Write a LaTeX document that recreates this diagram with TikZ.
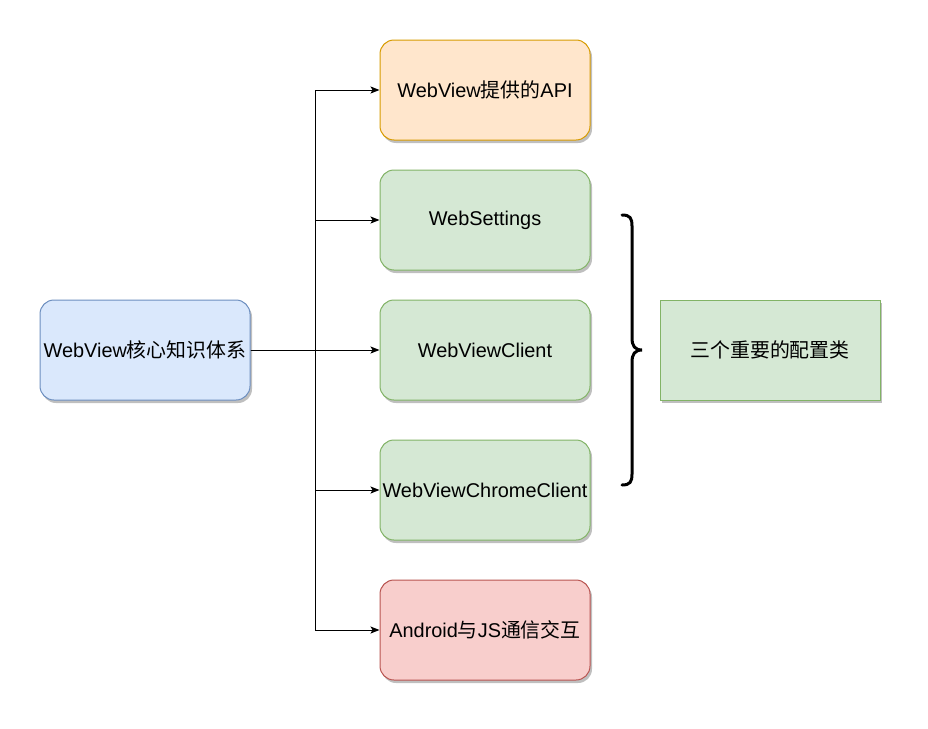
\documentclass[tikz,border=0pt]{standalone}
\usepackage{fontspec}
\setmainfont{Liberation Sans}
\newfontfamily\cjk{Noto Sans CJK SC}
\usetikzlibrary{arrows.meta,shadows}
\definecolor{bluefill}{HTML}{DAE8FC}
\definecolor{bluedraw}{HTML}{6C8EBF}
\definecolor{orangefill}{HTML}{FFE6CC}
\definecolor{orangedraw}{HTML}{D79B00}
\definecolor{greenfill}{HTML}{D5E8D4}
\definecolor{greendraw}{HTML}{82B366}
\definecolor{redfill}{HTML}{F8CECC}
\definecolor{reddraw}{HTML}{B85450}
\begin{document}
\begin{tikzpicture}[x=1pt,y=-1pt,
  font=\fontsize{19.9}{23}\selectfont,
  box/.style={minimum width=210pt,minimum height=100pt,inner sep=0pt,rounded corners=14pt,line width=1pt,
    drop shadow={shadow xshift=2pt,shadow yshift=-3pt,opacity=0.25,fill=black}},
  bluebox/.style={box,fill=bluefill,draw=bluedraw},
  orangebox/.style={box,fill=orangefill,draw=orangedraw},
  greenbox/.style={box,fill=greenfill,draw=greendraw},
  redbox/.style={box,fill=redfill,draw=reddraw},
  notebox/.style={box,rounded corners=0pt,minimum width=220pt,fill=greenfill,draw=greendraw},
  conn/.style={line width=1pt,-{Stealth[length=9pt,width=7pt,inset=2pt]}},
  bracestyle/.style={line width=3pt,line cap=round}
]
\useasboundingbox (0,0) rectangle (928,728);
\node[bluebox] (root) at (145,350) {WebView{\cjk 核心知识体系}};
\node[orangebox] (api) at (485,90) {WebView{\cjk 提供的}API};
\node[greenbox] (ws) at (485,220) {WebSettings};
\node[greenbox] (wvc) at (485,350) {WebViewClient};
\node[greenbox] (wcc) at (485,490) {WebViewChromeClient};
\node[redbox] (js) at (485,630) {Android{\cjk 与}JS{\cjk 通信交互}};
\node[notebox] (cfg) at (770,350) {\cjk 三个重要的配置类};

\draw[conn] (root.east) -- (wvc.west);
\draw[conn] (root.east) -- ++(65,0) |- (api.west);
\draw[conn] (root.east) -- ++(65,0) |- (ws.west);
\draw[conn] (root.east) -- ++(65,0) |- (wcc.west);
\draw[conn] (root.east) -- ++(65,0) |- (js.west);

\draw[bracestyle] (622,215) .. controls (630,215) and (632,218) .. (632,226)
  -- (632,338) .. controls (632,346) and (635,350) .. (642,350)
  .. controls (635,350) and (632,354) .. (632,362)
  -- (632,474) .. controls (632,482) and (630,485) .. (622,485);
\end{tikzpicture}
\end{document}
